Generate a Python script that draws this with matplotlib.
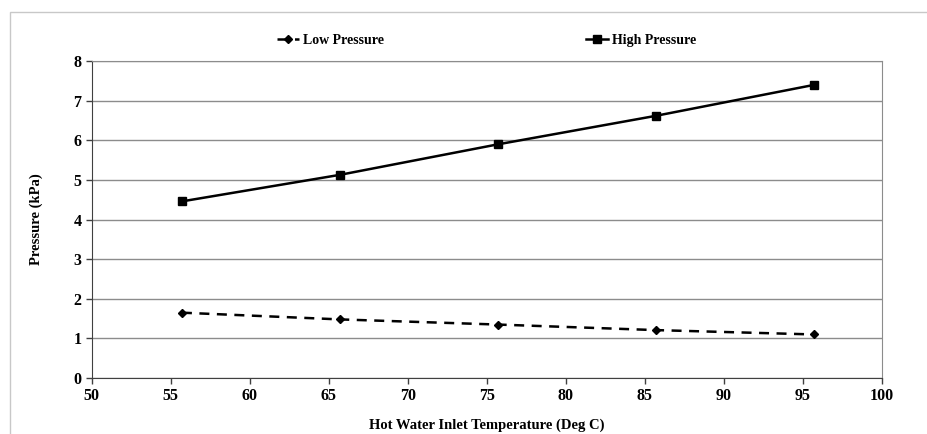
import matplotlib.pyplot as plt
from matplotlib.patches import Rectangle

temps = [55.7, 65.7, 75.7, 85.7, 95.7]
low_pressure = [1.65, 1.48, 1.35, 1.21, 1.10]
high_pressure = [4.46, 5.13, 5.90, 6.62, 7.40]

x_ticks = [50, 55, 60, 65, 70, 75, 80, 85, 90, 95, 100]
y_ticks = [0, 1, 2, 3, 4, 5, 6, 7, 8]

plt.rcParams['font.family'] = ['Liberation Serif', 'DejaVu Serif']
plt.rcParams['font.weight'] = 'bold'

fig = plt.figure(figsize=(9.28, 4.34), dpi=100)
ax = fig.add_axes([0.099, 0.129, 0.851, 0.730])

# outer chart border
fig.patches.append(Rectangle((0.011, -0.1), 1.2, 1.072, transform=fig.transFigure,
                             fill=False, edgecolor='#c8c8c8', linewidth=1.0))

ax.plot(temps, low_pressure, color='black', linestyle=(0, (4, 3)), linewidth=1.8,
        marker='D', markersize=4, label='Low Pressure')
ax.plot(temps, high_pressure, color='black', linestyle='-', linewidth=1.8,
        marker='s', markersize=5.5, label='High Pressure')

ax.set_xlim(50, 100)
ax.set_ylim(0, 8)
ax.set_xticks(x_ticks)
ax.set_yticks(y_ticks)
ax.grid(axis='y', color='#8c8c8c', linewidth=1.0)
ax.set_axisbelow(True)

for side in ['top', 'right']:
    ax.spines[side].set_color('#8c8c8c')
for side in ['left', 'bottom']:
    ax.spines[side].set_color('#404040')
ax.tick_params(direction='out', length=4, width=1, color='#404040', labelsize=11.5)
for lbl in ax.get_xticklabels() + ax.get_yticklabels():
    lbl.set_fontweight('bold')

ax.set_xlabel('Hot Water Inlet Temperature (Deg C)', fontsize=10.5, fontweight='bold', labelpad=10)
ax.set_ylabel('Pressure (kPa)', fontsize=10.5, fontweight='bold', labelpad=22)

ax.legend(loc='lower center', bbox_to_anchor=(0.5, 1.005), ncol=2, frameon=False,
          prop={'weight': 'bold', 'size': 10}, columnspacing=14.5, handlelength=1.6,
          handletextpad=0.3)

fig.savefig('out.png', dpi=100)
